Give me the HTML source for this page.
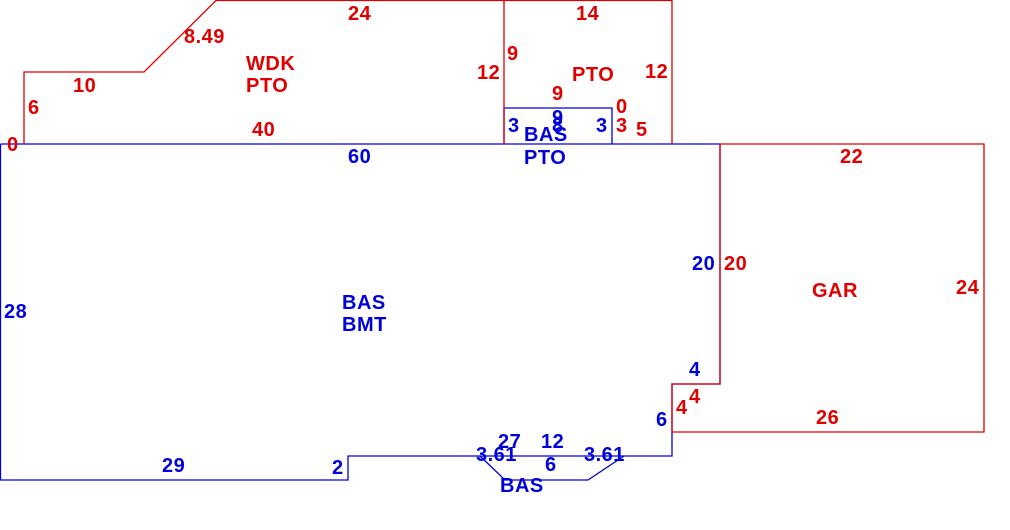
<!DOCTYPE html>
<html><head><meta charset="utf-8"><style>
html,body{margin:0;padding:0;background:#fff;}
svg{display:block}
text{font-family:"Liberation Sans",Arial,sans-serif;font-weight:bold;font-size:20px;letter-spacing:0.5px}
.r{fill:#e00000}.b{fill:#0000dd}
</style></head><body>
<svg width="1010" height="530" viewBox="0 0 1010 530" xmlns="http://www.w3.org/2000/svg">
<g fill="none" stroke-width="1.3">
<polyline stroke="#0000e0" points="0.5,144 720,144 720,384 672,384 672,456 348,456 348,480 0.5,480 0.5,144"/>
<polyline stroke="#0000e0" points="504,144 504,108 612,108 612,144"/>
<polyline stroke="#0000e0" points="480,456 505,480 588,480 624,456"/>
<polyline stroke="#e00000" points="24,144 24,72 144,72 216,0.5 672,0.5 672,144"/>
<line stroke="#e00000" x1="504" y1="0" x2="504" y2="144"/>
<polyline stroke="#e00000" points="720,144 984,144 984,432 672,432 672,384 720,384 720,144"/>
</g>
<text class="r" x="348" y="20">24</text>
<text class="r" x="184" y="43">8.49</text>
<text class="r" x="246" y="70">WDK</text>
<text class="r" x="246" y="92">PTO</text>
<text class="r" x="73" y="92">10</text>
<text class="r" x="28" y="114">6</text>
<text class="r" x="7" y="151">0</text>
<text class="r" x="252" y="136">40</text>
<text class="r" x="576" y="20">14</text>
<text class="r" x="507" y="60">9</text>
<text class="r" x="477" y="79">12</text>
<text class="r" x="572" y="81">PTO</text>
<text class="r" x="645" y="78">12</text>
<text class="r" x="552" y="100">9</text>
<text class="r" x="616" y="113">0</text>
<text class="r" x="616" y="132">3</text>
<text class="r" x="636" y="136">5</text>
<text class="r" x="840" y="163">22</text>
<text class="r" x="724" y="270">20</text>
<text class="r" x="812" y="297">GAR</text>
<text class="r" x="956" y="294">24</text>
<text class="r" x="689" y="403">4</text>
<text class="r" x="676" y="414">4</text>
<text class="r" x="816" y="424">26</text>
<text class="b" x="348" y="163">60</text>
<text class="b" x="508" y="132">3</text>
<text class="b" x="552" y="124">9</text>
<text class="b" x="552" y="132">8</text>
<text class="b" x="524" y="141">BAS</text>
<text class="b" x="524" y="164">PTO</text>
<text class="b" x="596" y="132">3</text>
<text class="b" x="692" y="270">20</text>
<text class="b" x="4" y="318">28</text>
<text class="b" x="342" y="309">BAS</text>
<text class="b" x="342" y="331">BMT</text>
<text class="b" x="689" y="376">4</text>
<text class="b" x="656" y="426">6</text>
<text class="b" x="498" y="448">27</text>
<text class="b" x="541" y="448">12</text>
<text class="b" x="476" y="461">3.61</text>
<text class="b" x="584" y="461">3.61</text>
<text class="b" x="545" y="471">6</text>
<text class="b" x="162" y="472">29</text>
<text class="b" x="332" y="474">2</text>
<text class="b" x="500" y="492">BAS</text>
</svg>
</body></html>
